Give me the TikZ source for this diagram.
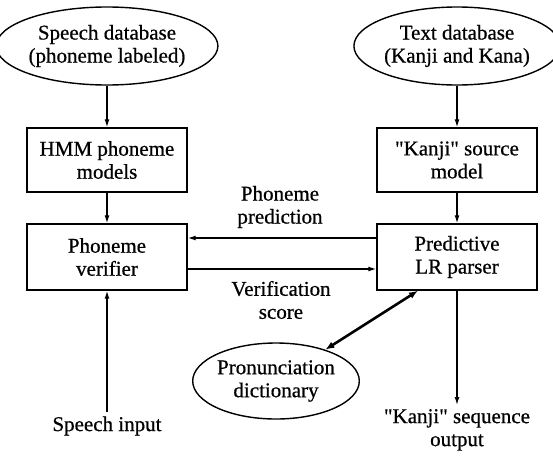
\documentclass[tikz,border=0pt]{standalone}
\usepackage{fontspec}
\setmainfont{Liberation Serif}[Ligatures=TeXOff, UprightFeatures={FakeBold=0.6}]
\usetikzlibrary{shapes.geometric,arrows.meta}
\begin{document}
\begin{tikzpicture}[x=1pt,y=-1pt,
  lbl/.style={font=\fontsize{21}{23}\selectfont, align=center},
  oval/.style={ellipse, draw, line width=1.4pt, lbl, inner sep=0pt},
  blk/.style={rectangle, draw, line width=1.4pt, lbl, inner sep=0pt, minimum width=160pt, minimum height=64pt},
  arr/.style={line width=1.3pt, -{Latex[length=8pt,width=5pt]}},
  txt/.style={lbl, inner sep=0pt},
  endtxt/.style={lbl, inner sep=4pt}]
\useasboundingbox (0,0) rectangle (553,455);
\node[oval, minimum width=196pt, minimum height=78pt] (sdb) at (107,46) {Speech database\\(phoneme labeled)};
\node[oval, minimum width=188pt, minimum height=78pt] (tdb) at (457,46) {Text database\\(Kanji and Kana)};
\node[blk] (hmm) at (107,160) {HMM phoneme\\models};
\node[blk] (ksrc) at (457,160) {"Kanji" source\\model};
\node[blk, minimum height=66pt] (ver) at (107,257) {Phoneme\\verifier};
\node[blk, minimum height=66pt] (par) at (457,257) {Predictive\\LR parser};
\node[oval, minimum width=163pt, minimum height=76pt] (pron) at (276,381) {Pronunciation\\dictionary};
\node[txt] (pp) at (280,207) {Phoneme\\prediction};
\node[txt] (vs) at (281,300) {Verification\\score};
\node[endtxt] (sin) at (107,426) {Speech input};
\node[endtxt, anchor=north] (kout) at (457,405) {"Kanji" sequence\\output};
\draw[arr] (sdb) -- (hmm);
\draw[arr] (tdb) -- (ksrc);
\draw[arr] (hmm) -- (ver);
\draw[arr] (ksrc) -- (par);
\draw[arr] ([yshift=19pt]par.west) -- ([yshift=19pt]ver.east);
\draw[arr] ([yshift=-12pt]ver.east) -- ([yshift=-12pt]par.west);
\draw[arr] (sin) -- (ver);
\draw[arr] (par) -- (kout);
\coordinate (dstart) at ([xshift=-39pt]par.south);
\draw[line width=2.6pt, {Latex[length=9pt,width=7pt]}-{Latex[length=9pt,width=7pt]}] (dstart) -- (pron);
\end{tikzpicture}
\end{document}
